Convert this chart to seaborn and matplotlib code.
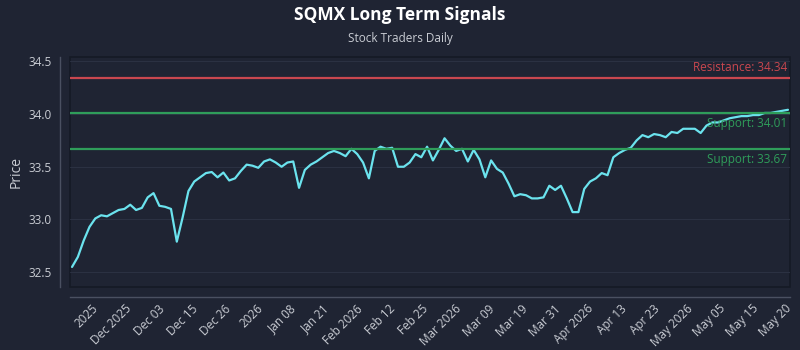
import numpy as np
import pandas as pd
import matplotlib
matplotlib.use('Agg')
import matplotlib.pyplot as plt
import seaborn as sns

# Schlusskurse, ein Wert pro Handelstag
kurse_1 = [32.55, 32.645, 32.80, 32.93, 33.01, 33.04, 33.03, 33.06, 33.09, 33.10,
           33.14, 33.09, 33.11, 33.21, 33.25, 33.13, 33.12, 33.10, 32.79, 33.02,
           33.27, 33.36, 33.40, 33.44, 33.45, 33.40]
kurse_2 = [33.445, 33.37, 33.39, 33.46, 33.52, 33.51, 33.49, 33.55, 33.57, 33.54,
           33.50, 33.54, 33.55, 33.30, 33.47, 33.52, 33.55, 33.59, 33.63, 33.65,
           33.63, 33.60, 33.67, 33.62]
kurse_3 = [33.54, 33.39, 33.65, 33.69, 33.67, 33.68, 33.50, 33.50, 33.54, 33.62,
           33.59, 33.69, 33.56, 33.66, 33.77, 33.70, 33.65, 33.67, 33.55, 33.66,
           33.57, 33.40, 33.56, 33.48]
kurse_4 = [33.445, 33.34, 33.22, 33.24, 33.23, 33.20, 33.20, 33.21, 33.32, 33.28,
           33.32, 33.20, 33.07, 33.07, 33.29, 33.36, 33.39, 33.44, 33.42, 33.59,
           33.63, 33.66, 33.68, 33.75]
kurse_5 = [33.80, 33.78, 33.81, 33.80, 33.78, 33.83, 33.82, 33.86, 33.86, 33.86,
           33.82, 33.89, 33.92, 33.92, 33.94, 33.96, 33.97, 33.98, 33.98, 33.99,
           33.99, 34.01, 34.01, 34.02, 34.03, 34.04]
kurse = kurse_1 + kurse_2 + kurse_3 + kurse_4 + kurse_5

tick_labels = ['2025', 'Dec 2025', 'Dec 03', 'Dec 15', 'Dec 26', '2026', 'Jan 08',
               'Jan 21', 'Feb 2026', 'Feb 12', 'Feb 25', 'Mar 2026', 'Mar 09',
               'Mar 19', 'Mar 31', 'Apr 2026', 'Apr 13', 'Apr 23', 'May 2026',
               'May 05', 'May 15', 'May 20']

widerstand = 34.34
unterstuetzungen = [34.01, 33.67]

HINTERGRUND = '#1f2433'
TEXT_FARBE = '#c9ccd3'
LINIE = '#6be3ee'
ROT = '#c9474f'
GRUEN = '#2f9d5a'

sns.set_theme(style='dark', rc={
    'figure.facecolor': HINTERGRUND,
    'axes.facecolor': HINTERGRUND,
    'axes.edgecolor': '#4a5061',
    'grid.color': '#2b3142',
    'text.color': TEXT_FARBE,
    'axes.labelcolor': TEXT_FARBE,
    'xtick.color': TEXT_FARBE,
    'ytick.color': TEXT_FARBE,
})
plt.rcParams['font.family'] = ['Open Sans', 'DejaVu Sans']

df = pd.DataFrame({'tag': np.arange(len(kurse)), 'preis': kurse})

fig, ax = plt.subplots(figsize=(8, 3.5), dpi=100)
fig.subplots_adjust(left=0.0875, right=0.9875, top=0.837, bottom=0.18)

# despine zuerst, sonst setzt set_position die Tick-Formatierung zurueck
sns.despine(ax=ax, offset=7)
for s in ['left', 'bottom']:
    ax.spines[s].set_color('#4a5061')
    ax.spines[s].set_linewidth(1)

ax.grid(axis='y', linewidth=0.8)
ax.grid(axis='x', visible=False)

sns.lineplot(data=df, x='tag', y='preis', color=LINIE, linewidth=1.6, ax=ax)

# Widerstand / Unterstuetzung
ax.axhline(widerstand, color=ROT, linewidth=1.6)
ax.text(0.996, widerstand + 0.035, f'Resistance: {widerstand:.2f}', color=ROT,
        fontsize=8.5, ha='right', va='bottom', transform=ax.get_yaxis_transform())
for wert in unterstuetzungen:
    ax.axhline(wert, color=GRUEN, linewidth=1.6)
    ax.text(0.996, wert - 0.04, f'Support: {wert:.2f}', color=GRUEN,
            fontsize=8.5, ha='right', va='top', transform=ax.get_yaxis_transform())

unten = min(kurse) - 0.19
oben = max(kurse + [widerstand]) + 0.2
ax.set_ylim(unten, oben)
ax.set_xlim(-0.35, len(kurse) - 1 + 0.35)
ax.set_yticks([32.5, 33.0, 33.5, 34.0, 34.5])

tick_pos = np.linspace(3.4, len(kurse) - 1.5, len(tick_labels))
ax.set_xticks(tick_pos)
ax.set_xticklabels(tick_labels, rotation=45, ha='right', rotation_mode='anchor')
ax.tick_params(axis='both', length=0, labelsize=8.5)
ax.tick_params(axis='x', pad=4)
ax.tick_params(axis='y', pad=6)

ax.set_xlabel('')
ax.set_ylabel('Price', fontsize=10)

# Rahmen um die Zeichenflaeche
ax.patch.set_edgecolor('#151a25')
ax.patch.set_linewidth(1.2)

fig.text(0.5, 0.957, 'SQMX Long Term Signals', ha='center', va='center',
         fontsize=12.5, fontweight='bold', color='white')
fig.text(0.5, 0.891, 'Stock Traders Daily', ha='center', va='center',
         fontsize=8.5, color=TEXT_FARBE)

fig.savefig('out.png', dpi=100, facecolor=HINTERGRUND)
